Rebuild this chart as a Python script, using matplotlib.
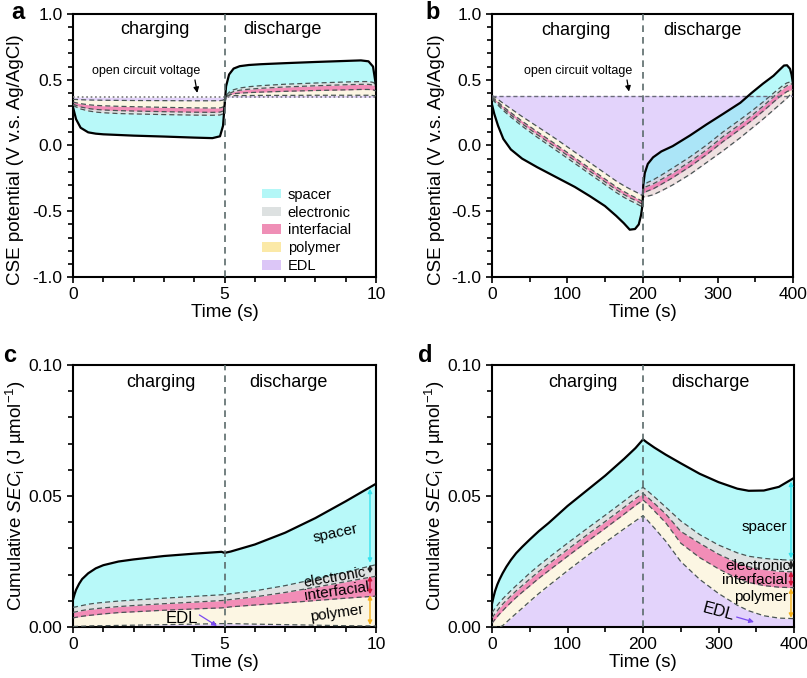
import matplotlib
matplotlib.use("Agg")
import matplotlib.pyplot as plt
from matplotlib.ticker import MultipleLocator, FormatStrFormatter
from matplotlib.patches import Patch

plt.rcParams['font.family'] = ['Liberation Sans', 'DejaVu Sans']
plt.rcParams['axes.unicode_minus'] = False
plt.rcParams['mathtext.fontset'] = 'custom'
plt.rcParams['mathtext.rm'] = 'Liberation Sans'
plt.rcParams['mathtext.it'] = 'Liberation Sans:italic'

# ---- panel a : CSE potential, 10 s cycle ----
t_a = [0, 0.1, 0.25, 0.5, 0.75, 1, 1.5, 2, 3, 4, 4.6, 4.85, 4.95, 5.0, 5.05, 5.15,
       5.3, 5.5, 5.8, 6.2, 7, 8, 9, 9.5, 9.75, 9.9, 10]
ocv_a = 0.367
edl_a = [0.35, 0.35, 0.348, 0.346, 0.345, 0.344, 0.343, 0.342, 0.341, 0.34, 0.34, 0.341,
         0.345, 0.36, 0.375, 0.378, 0.379, 0.38, 0.38, 0.381, 0.381, 0.382, 0.382, 0.382,
         0.382, 0.38, 0.378]
poly_a = [0.33, 0.325, 0.318, 0.31, 0.305, 0.302, 0.298, 0.295, 0.29, 0.286, 0.285, 0.286,
          0.292, 0.33, 0.37, 0.385, 0.393, 0.398, 0.402, 0.406, 0.412, 0.418, 0.423, 0.426,
          0.426, 0.423, 0.415]
intf_a = [0.315, 0.305, 0.293, 0.281, 0.274, 0.27, 0.265, 0.262, 0.257, 0.253, 0.252, 0.254,
          0.262, 0.31, 0.375, 0.395, 0.41, 0.42, 0.428, 0.435, 0.445, 0.454, 0.462, 0.465,
          0.465, 0.46, 0.448]
elec_a = [0.305, 0.293, 0.278, 0.263, 0.254, 0.249, 0.243, 0.24, 0.235, 0.231, 0.23, 0.232,
          0.24, 0.3, 0.38, 0.405, 0.424, 0.437, 0.447, 0.455, 0.466, 0.475, 0.483, 0.486,
          0.486, 0.48, 0.465]
spacer_a = [0.29, 0.2, 0.135, 0.1, 0.09, 0.085, 0.08, 0.075, 0.068, 0.06, 0.056, 0.07, 0.15,
            0.3, 0.45, 0.54, 0.585, 0.603, 0.612, 0.618, 0.626, 0.635, 0.643, 0.647, 0.64,
            0.6, 0.45]

# ---- panel b : CSE potential, 400 s cycle ----
t_b = [0, 3, 8, 15, 25, 40, 60, 85, 110, 130, 150, 165, 175, 183, 190, 195, 198, 200,
       201, 203, 207, 214, 225, 240, 263, 285, 307, 330, 345, 360, 374, 382, 388, 392,
       396, 398, 400]
ocv_b = 0.38
edl_b = [0.38, 0.37, 0.35, 0.32, 0.28, 0.22, 0.145, 0.05, -0.05, -0.13, -0.21, -0.27,
         -0.305, -0.33, -0.35, -0.365, -0.375, -0.38, -0.39, -0.39, -0.385, -0.375, -0.345,
         -0.30, -0.22, -0.13, -0.04, 0.06, 0.13, 0.2, 0.27, 0.31, 0.34, 0.36, 0.385, 0.395,
         0.40]
poly_b = [0.37, 0.355, 0.33, 0.295, 0.25, 0.185, 0.105, 0.008, -0.093, -0.174, -0.254,
          -0.314, -0.349, -0.374, -0.394, -0.409, -0.419, -0.425, -0.36, -0.355, -0.345,
          -0.33, -0.295, -0.245, -0.16, -0.07, 0.03, 0.125, 0.19, 0.26, 0.33, 0.37, 0.395,
          0.41, 0.42, 0.425, 0.425]
intf_b = [0.36, 0.345, 0.318, 0.28, 0.232, 0.165, 0.083, -0.015, -0.115, -0.196, -0.276,
          -0.336, -0.372, -0.397, -0.416, -0.431, -0.441, -0.447, -0.325, -0.318, -0.308,
          -0.292, -0.258, -0.208, -0.123, -0.033, 0.068, 0.163, 0.228, 0.298, 0.37, 0.41,
          0.44, 0.455, 0.465, 0.468, 0.462]
elec_b = [0.35, 0.335, 0.306, 0.266, 0.216, 0.147, 0.063, -0.036, -0.136, -0.217, -0.297,
          -0.357, -0.393, -0.418, -0.437, -0.452, -0.462, -0.468, -0.30, -0.295, -0.28,
          -0.262, -0.225, -0.172, -0.087, 0.003, 0.103, 0.198, 0.262, 0.33, 0.398, 0.436,
          0.463, 0.476, 0.483, 0.484, 0.476]
spacer_b = [0.31, 0.24, 0.15, 0.05, -0.03, -0.1, -0.165, -0.24, -0.315, -0.385, -0.46,
            -0.535, -0.59, -0.64, -0.635, -0.6, -0.53, -0.45, -0.3, -0.21, -0.14, -0.09,
            -0.045, -0.005, 0.076, 0.16, 0.24, 0.325, 0.4, 0.47, 0.53, 0.575, 0.608, 0.61,
            0.583, 0.54, 0.47]

# ---- panel c : cumulative SEC, 10 s cycle ----
t_c = [0, 0.05, 0.1, 0.2, 0.3, 0.5, 0.75, 1, 1.5, 2, 3, 4, 4.9, 5.0, 5.2, 6, 7, 8, 9, 10]
edl_c = [0.0002, 0.0002, 0.0002, 0.0003, 0.0003, 0.0004, 0.0005, 0.0005, 0.0006, 0.0007,
         0.0009, 0.0011, 0.0013, 0.0013, 0.0013, 0.0011, 0.0009, 0.0007, 0.0005, 0.0004]
poly_c = [0.0035, 0.0036, 0.0037, 0.0039, 0.0041, 0.0044, 0.0047, 0.005, 0.0055, 0.0058,
          0.0064, 0.0069, 0.0073, 0.0074, 0.0077, 0.0084, 0.0092, 0.0101, 0.011, 0.0118]
intf_c = [0.0056, 0.0057, 0.0058, 0.0061, 0.0063, 0.0067, 0.007, 0.0073, 0.0078, 0.0082,
          0.0089, 0.0095, 0.0101, 0.0102, 0.0105, 0.0115, 0.0132, 0.0152, 0.0173, 0.0194]
elec_c = [0.0075, 0.0076, 0.0077, 0.008, 0.0082, 0.0087, 0.0091, 0.0094, 0.0099, 0.0103,
          0.011, 0.0117, 0.0123, 0.0124, 0.0127, 0.0138, 0.0158, 0.0183, 0.021, 0.0238]
spacer_c = [0.0105, 0.0125, 0.0142, 0.0165, 0.0183, 0.0205, 0.0224, 0.0236, 0.025, 0.0258,
            0.0271, 0.028, 0.0287, 0.0283, 0.0288, 0.0315, 0.036, 0.0416, 0.048, 0.0547]

# ---- panel d : cumulative SEC, 400 s cycle ----
t_d = [0, 2, 4, 7, 10, 14, 19, 25, 32, 40, 50, 62, 75, 100, 125, 150, 175, 190, 200,
       205, 215, 230, 250, 275, 300, 325, 340, 360, 380, 400]
edl_d = [0, 0, 0, 0, 0, 0.0005, 0.0018, 0.0034, 0.0052, 0.0072, 0.0098, 0.0128, 0.0158,
         0.0215, 0.027, 0.0323, 0.0375, 0.0405, 0.0425, 0.041, 0.0378, 0.0328, 0.025,
         0.0182, 0.0128, 0.0083, 0.0062, 0.0043, 0.0034, 0.0032]
poly_d = [0.0015, 0.0022, 0.0029, 0.004, 0.005, 0.0062, 0.0077, 0.0094, 0.0113, 0.0133,
          0.0157, 0.0186, 0.0215, 0.027, 0.0324, 0.0377, 0.0431, 0.0464, 0.0485, 0.0472,
          0.0443, 0.0398, 0.032, 0.0265, 0.0222, 0.0185, 0.017, 0.0158, 0.0152, 0.015]
intf_d = [0.0035, 0.0043, 0.0051, 0.0062, 0.0074, 0.0087, 0.0102, 0.0119, 0.0138, 0.0158,
          0.0183, 0.0212, 0.0241, 0.0296, 0.035, 0.0403, 0.0457, 0.049, 0.051, 0.0498,
          0.0472, 0.0432, 0.0365, 0.032, 0.0278, 0.0245, 0.023, 0.022, 0.0213, 0.021]
elec_d = [0.0055, 0.0063, 0.0071, 0.0083, 0.0094, 0.0107, 0.0122, 0.0139, 0.0158, 0.0179,
          0.0206, 0.0235, 0.0265, 0.032, 0.0374, 0.0427, 0.0481, 0.0514, 0.0533, 0.0522,
          0.0497, 0.0458, 0.0405, 0.0353, 0.0313, 0.0283, 0.027, 0.0262, 0.0257, 0.0255]
spacer_d = [0.009, 0.0115, 0.0137, 0.0162, 0.0182, 0.0205, 0.023, 0.0256, 0.0282, 0.0306,
            0.0334, 0.0366, 0.0397, 0.0462, 0.052, 0.0578, 0.0642, 0.0683, 0.0716, 0.0705,
            0.0685, 0.0658, 0.0625, 0.0585, 0.0553, 0.0528, 0.052, 0.0521, 0.0535, 0.0569]

names = ['spacer', 'electronic', 'interfacial', 'polymer', 'EDL']
legend_colors = ['#b3f7f7', '#dde1e1', '#ef8fb6', '#fbe9a7', '#dcc6f7']
arrow_colors = ['#33e3ee', '#222222', '#d0163a', '#f5b01a']

C_EDL = '#e3d3fb'
C_POLY = '#fbefc9'
C_INTF = '#f079ab'
C_ELEC = '#d1d6d6'
C_SPAC = '#7ef5f5'
DASH = dict(color='#4a5555', lw=0.9, dashes=(4, 2.5))


def draw_stack(ax, t, base, edl, poly, intf, elec, spacer):
    ax.fill_between(t, base, edl, color=C_EDL, lw=0, zorder=1)
    ax.fill_between(t, edl, poly, color=C_POLY, alpha=0.5, lw=0, zorder=2)
    ax.fill_between(t, poly, intf, color=C_INTF, alpha=0.85, lw=0, zorder=2)
    ax.fill_between(t, intf, elec, color=C_ELEC, alpha=0.7, lw=0, zorder=2)
    ax.fill_between(t, elec, spacer, color=C_SPAC, alpha=0.55, lw=0, zorder=2)
    for curve in (edl, poly, intf, elec):
        ax.plot(t, curve, zorder=3, **DASH)
    ax.plot(t, spacer, color='black', lw=1.6, zorder=4)


def style(ax, xmax, xmaj, xmin, ylim, ymaj, ymin, fmt):
    ax.set_xlim(0, xmax)
    ax.set_ylim(*ylim)
    ax.xaxis.set_major_locator(MultipleLocator(xmaj))
    ax.xaxis.set_minor_locator(MultipleLocator(xmin))
    ax.yaxis.set_major_locator(MultipleLocator(ymaj))
    ax.yaxis.set_minor_locator(MultipleLocator(ymin))
    ax.yaxis.set_major_formatter(FormatStrFormatter(fmt))
    ax.tick_params(which='both', direction='out', width=1.2, labelsize=12.5, pad=3)
    ax.tick_params(which='major', length=4.5)
    ax.tick_params(which='minor', length=3.5)
    for s in ax.spines.values():
        s.set_linewidth(1.5)
    ax.set_xlabel('Time (s)', fontsize=13.5, labelpad=1)
    ax.axvline(xmax / 2, color='#5b6b6b', lw=1.2, ls=(0, (4, 3)), zorder=5)


fig = plt.figure(figsize=(8.07, 6.78), dpi=100)
ax_a = fig.add_axes([0.0905, 0.5914, 0.3755, 0.388])
ax_b = fig.add_axes([0.6097, 0.5914, 0.373, 0.388])
ax_c = fig.add_axes([0.0905, 0.0752, 0.3755, 0.3864])
ax_d = fig.add_axes([0.6097, 0.0752, 0.3742, 0.3864])

# a
draw_stack(ax_a, t_a, ocv_a, edl_a, poly_a, intf_a, elec_a, spacer_a)
ax_a.axhline(ocv_a, color='#777777', lw=1.2, ls=':', zorder=3)
style(ax_a, 10, 5, 1, (-1, 1), 0.5, 0.1, '%.1f')
ax_a.set_ylabel('CSE potential (V v.s. Ag/AgCl)', fontsize=13.5)
ax_a.yaxis.set_label_coords(-0.163, 0.445)
ax_a.annotate('open circuit voltage', xy=(4.1, 0.40), xytext=(2.4, 0.565),
              ha='center', va='center', fontsize=9,
              arrowprops=dict(arrowstyle='-|>', color='black', lw=0.9,
                              mutation_scale=8, shrinkA=14, shrinkB=0,
                              relpos=(0.95, 0.0)))
handles = [Patch(facecolor=c, edgecolor='none') for c in legend_colors]
ax_a.legend(handles, names, loc='upper left', bbox_to_anchor=(0.624, 0.34), frameon=False,
            fontsize=10.5, handlelength=1.3, handleheight=0.65, labelspacing=0.27,
            handletextpad=0.45, borderpad=0, borderaxespad=0)

# b
draw_stack(ax_b, t_b, ocv_b, edl_b, poly_b, intf_b, elec_b, spacer_b)
ax_b.axhline(ocv_b, color='#6a6a7a', lw=1.0, ls=(0, (3, 2)), zorder=3)
style(ax_b, 400, 100, 50, (-1, 1), 0.5, 0.1, '%.1f')
ax_b.set_ylabel('CSE potential (V v.s. Ag/AgCl)', fontsize=13.5)
ax_b.yaxis.set_label_coords(-0.156, 0.445)
ax_b.annotate('open circuit voltage', xy=(182, 0.41), xytext=(114, 0.565),
              ha='center', va='center', fontsize=9,
              arrowprops=dict(arrowstyle='-|>', color='black', lw=0.9,
                              mutation_scale=8, shrinkA=14, shrinkB=0,
                              relpos=(0.95, 0.0)))

# c
draw_stack(ax_c, t_c, 0, edl_c, poly_c, intf_c, elec_c, spacer_c)
style(ax_c, 10, 5, 1, (0, 0.1), 0.05, 0.01, '%.2f')
ax_c.set_ylabel(r'Cumulative $\mathit{SEC}_{\mathrm{i}}$ (J µmol$^{\mathrm{-1}}$)',
                fontsize=13.5)
ax_c.yaxis.set_label_coords(-0.15, 0.5)

# d
draw_stack(ax_d, t_d, 0, edl_d, poly_d, intf_d, elec_d, spacer_d)
style(ax_d, 400, 100, 50, (0, 0.1), 0.05, 0.01, '%.2f')
ax_d.set_ylabel(r'Cumulative $\mathit{SEC}_{\mathrm{i}}$ (J µmol$^{\mathrm{-1}}$)',
                fontsize=13.5)
ax_d.yaxis.set_label_coords(-0.15, 0.5)

# phase labels
for ax, xc, xd, y in [(ax_a, 2.7, 6.9, 0.88), (ax_b, 111, 279, 0.875),
                      (ax_c, 2.9, 7.1, 0.0935), (ax_d, 120, 289, 0.0933)]:
    ax.text(xc, y, 'charging', ha='center', va='center', fontsize=13)
    ax.text(xd, y, 'discharge', ha='center', va='center', fontsize=13)


def band_arrows(ax, x, spans):
    for (lo, hi), col in zip(spans, arrow_colors):
        ax.annotate('', xy=(x, hi), xytext=(x, lo), zorder=6,
                    arrowprops=dict(arrowstyle='<|-|>', color=col, lw=1.0,
                                    mutation_scale=6, shrinkA=0, shrinkB=0))


EDL_ARROW = dict(arrowstyle='-|>', color='#7a4af0', lw=0.9, mutation_scale=7,
                 shrinkA=0, shrinkB=0)

# c labels
ax_c.text(8.65, 0.0358, 'spacer', rotation=12, ha='center', va='center', fontsize=11)
ax_c.text(8.65, 0.0188, 'electronic', rotation=10, ha='center', va='center', fontsize=10.5)
ax_c.text(8.7, 0.0137, 'interfacial', rotation=8, ha='center', va='center', fontsize=11)
ax_c.text(8.7, 0.0054, 'polymer', rotation=8, ha='center', va='center', fontsize=11)
ax_c.text(3.6, 0.0034, 'EDL', ha='center', va='center', fontsize=12)
ax_c.annotate('', xy=(4.75, 0.0004), xytext=(4.17, 0.0046), arrowprops=EDL_ARROW)
band_arrows(ax_c, 9.8, [(0.0245, 0.0528), (0.0205, 0.0238), (0.0125, 0.0195),
                        (0.0008, 0.0122)])

# d labels
ax_d.text(361, 0.0382, 'spacer', ha='center', va='center', fontsize=11)
ax_d.text(352, 0.0232, 'electronic', ha='center', va='center', fontsize=11)
ax_d.text(348, 0.0181, 'interfacial', ha='center', va='center', fontsize=11)
ax_d.text(357, 0.0114, 'polymer', ha='center', va='center', fontsize=11)
ax_d.text(300, 0.0058, 'EDL', ha='center', va='center', rotation=-15, fontsize=12)
ax_d.annotate('', xy=(347, 0.0019), xytext=(324, 0.0038), arrowprops=EDL_ARROW)
band_arrows(ax_d, 396, [(0.0262, 0.0555), (0.0218, 0.0255), (0.0155, 0.0212),
                        (0.0035, 0.0148)])

# panel letters
for x, y, s in [(0.014, 0.998, 'a'), (0.527, 0.998, 'b'), (0.004, 0.492, 'c'),
                (0.518, 0.492, 'd')]:
    fig.text(x, y, s, fontsize=17, fontweight='bold', va='top', ha='left')

fig.savefig('out.png', dpi=100)
